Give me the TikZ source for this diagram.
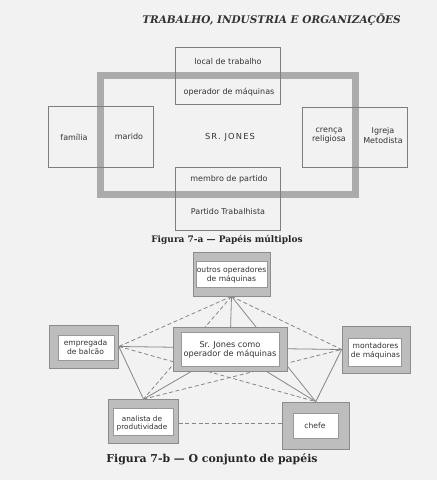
\documentclass[tikz,border=0pt]{standalone}
\usepackage{fontspec}
\setmainfont{DejaVu Serif}
\newfontfamily\labfont{DejaVu Sans}
\newfontfamily\labwide[LetterSpace=14]{DejaVu Sans}
\definecolor{paper}{HTML}{F2F2F2}
\definecolor{txt}{HTML}{333333}
\definecolor{linea}{HTML}{7E7E7E}
\definecolor{bandc}{HTML}{ABABAB}
\definecolor{bandedge}{HTML}{8C8C8C}
\definecolor{boxband}{HTML}{BDBDBD}
\definecolor{lineb}{HTML}{858585}
\pgfdeclarelayer{paperlayer}
\pgfdeclarelayer{linelayer}
\pgfsetlayers{paperlayer,linelayer,main}
\tikzset{
  lbl/.style={font=\labfont\fontsize{8}{9.2}\selectfont, text=txt, inner sep=0pt, align=center},
  lblb/.style={font=\labfont\fontsize{7.6}{8.8}\selectfont, text=txt, inner sep=0pt, align=center},
  boxa/.style={draw=linea, line width=0.8pt, inner sep=0pt},
  outerb/.style={draw=bandedge, fill=boxband, line width=0.7pt, inner sep=0pt},
  innerb/.style={draw=linea!80, fill=white, line width=0.5pt, inner sep=0pt},
  conn/.style={draw=lineb, line width=0.8pt},
  dconn/.style={conn, dash pattern=on 4pt off 2.6pt},
  capt/.style={font=\bfseries, text=black!85, inner sep=0pt}
}
\begin{document}
\begin{tikzpicture}[x=1pt,y=-1pt]
\begin{pgfonlayer}{paperlayer}
\fill[paper] (0,0) rectangle (437,480);
\end{pgfonlayer}
\useasboundingbox (0,0) rectangle (437,480);

% header
\node[font=\bfseries\itshape\fontsize{10.5}{12}\selectfont, text=black!80, anchor=east, inner sep=0pt] (head) at (401,19.5) {TRABALHO, INDUSTRIA E ORGANIZAÇÕES};

% ---------- Figure 7-a ----------
\node[draw=bandedge, line width=7.6pt, minimum width=255pt, minimum height=119pt, inner sep=0pt] (frameo) at (228,135) {};
\node[draw=bandc, line width=6.2pt, minimum width=255pt, minimum height=119pt, inner sep=0pt] (frame) at (228,135) {};

\node[boxa, minimum width=105pt, minimum height=61pt] (famb) at (100.5,136.5) {};
\node[boxa, minimum width=105pt, minimum height=57pt] (topb) at (227.5,75.5) {};
\node[boxa, minimum width=105pt, minimum height=63pt] (botb) at (227.5,198.5) {};
\node[boxa, minimum width=105pt, minimum height=60pt] (rigb) at (354.5,137) {};

\node[lbl] (familia) at (74,137) {família};
\node[lbl] (marido) at (129,137) {marido};
\node[lbl] (local) at (228,61.5) {local de trabalho};
\node[lbl] (operador) at (229,92) {operador de máquinas};
\node[lbl, font=\labwide\fontsize{8.3}{9.2}\selectfont] (jones) at (230,137) {SR. JONES};
\node[lbl] (membro) at (229,179.5) {membro de partido};
\node[lbl] (partido) at (228,212) {Partido Trabalhista};
\node[lbl] (crenca) at (329,135.5) {crença\\religiosa};
\node[lbl] (igreja) at (383,135.5) {Igreja\\Metodista};

\node[capt, font=\bfseries\fontsize{9}{10}\selectfont] (capa) at (227,239.5) {Figura 7-a — Papéis múltiplos};

% ---------- Figure 7-b ----------
\node[outerb, minimum width=77pt, minimum height=44pt] (Oo) at (231.5,274) {};
\node[innerb, minimum width=70.5pt, minimum height=25.5pt] (Oi) at (231.75,274.25) {};
\node[lblb] (Ot) at (231.5,274.5) {outros operadores\\de máquinas};

\node[outerb, minimum width=114pt, minimum height=44pt] (Jo) at (230,349) {};
\node[innerb, minimum width=97.5pt, minimum height=33.5pt] (Ji) at (230.25,349.25) {};
\node[lblb, font=\labfont\fontsize{8.2}{9}\selectfont] (Jt) at (230,350) {Sr. Jones como\\operador de máquinas};

\node[outerb, minimum width=69.5pt, minimum height=43pt] (Eo) at (83.75,346.5) {};
\node[innerb, minimum width=56pt, minimum height=25pt] (Ei) at (86,347.5) {};
\node[lblb] (Et) at (85.5,347) {empregada\\de balcão};

\node[outerb, minimum width=68.5pt, minimum height=47pt] (Mo) at (376.25,349.5) {};
\node[innerb, minimum width=53pt, minimum height=28.5pt] (Mi) at (375,352.25) {};
\node[lblb] (Mt) at (375.5,350.5) {montadores\\de máquinas};

\node[outerb, minimum width=70pt, minimum height=43.5pt] (Ao) at (143.5,421.25) {};
\node[innerb, minimum width=60pt, minimum height=27pt] (Ai) at (143.5,421.5) {};
\node[lblb, font=\labfont\fontsize{7.3}{8.8}\selectfont] (At) at (142,423.5) {analista de\\produtividade};

\node[outerb, minimum width=67.5pt, minimum height=47pt] (Co) at (315.75,425.5) {};
\node[innerb, minimum width=45pt, minimum height=25pt] (Ci) at (316,426) {};
\node[lblb] (Ct) at (315,425.5) {chefe};

\node[capt, font=\bfseries\fontsize{10.9}{12}\selectfont] (capb) at (212,459) {Figura 7-b — O conjunto de papéis};

\begin{pgfonlayer}{linelayer}
% solid connectors
\draw[conn] (Oo.south) -- (Jo.center);
\draw[conn] (Eo.east) -- (Mo.west);
\draw[conn] (Ao.north) -- (Jo.center);
\draw[conn] (Co.north) -- (Jo.center);
\draw[conn] (Oo.south) -- (Co.north);
\draw[conn] (Eo.east) -- (Ao.north);
\draw[conn] (Mo.west) -- (Co.north);
% dashed connectors
\draw[dconn] (Oo.south) -- (Eo.east);
\draw[dconn] (Oo.south) -- (Ao.north);
\draw[dconn] (Oo.south) -- (Mo.west);
\draw[dconn] (Eo.east) -- (Co.north);
\draw[dconn] (Ao.north) -- (Mo.west);
\draw[dconn] ([yshift=-2.5pt]Ao.east) -- ([yshift=-2.5pt]Ao.east -| Co.west);
\end{pgfonlayer}
\end{tikzpicture}
\end{document}
